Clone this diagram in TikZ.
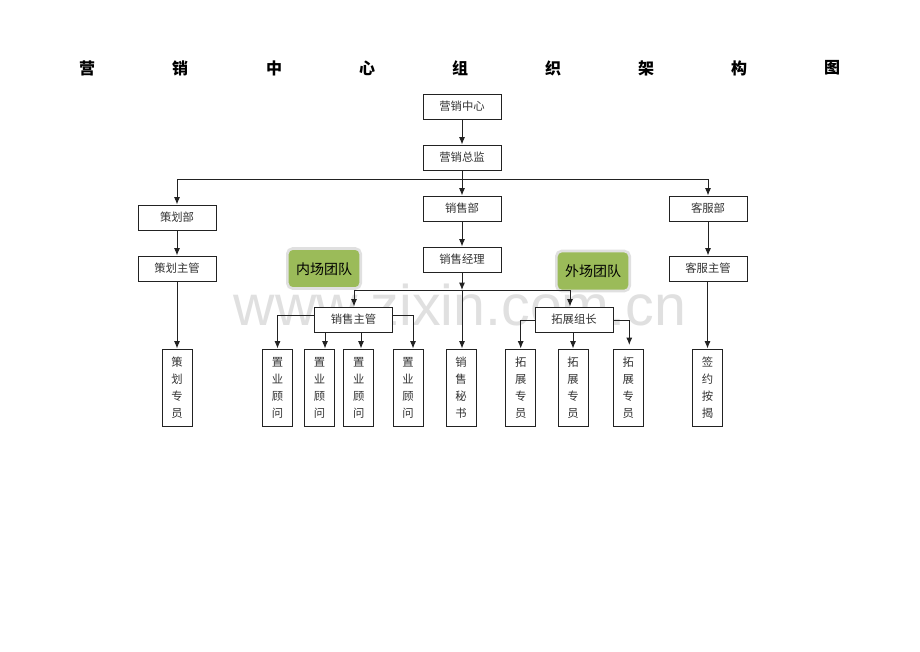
\documentclass[tikz,border=0pt]{standalone}
\usepackage{fontspec}
\setmainfont{Noto Sans CJK SC}
\newfontfamily\wmfont{Liberation Sans}
\usetikzlibrary{arrows.meta,calc}
\definecolor{teamgreen}{HTML}{9BBB59}
\definecolor{linecol}{HTML}{222222}
\begin{document}
\begin{tikzpicture}[x=0.75pt,y=-0.75pt,
  box/.style={draw=linecol, line width=0.75pt, fill=white, minimum width=58.5pt, minimum height=18.75pt, inner sep=0pt, font=\fontsize{8.5}{10}\selectfont, text=black!80},
  vbox/.style={draw=linecol, line width=0.75pt, fill=white, minimum width=22.5pt, minimum height=57.75pt, inner sep=0pt, align=center, font=\fontsize{8.5}{12.75}\selectfont, text=black!80},
  team/.style={fill=teamgreen, draw=black!12, line width=2pt, rounded corners=4pt, minimum width=55pt, minimum height=30pt, inner sep=0pt, font=\fontsize{10.5}{12}\selectfont},
  ttl/.style={font=\fontsize{12}{14}\selectfont\bfseries},
  arr/.style={draw=linecol, line width=0.75pt, -{Latex[length=5.5pt,width=4.5pt]}},
  ln/.style={draw=linecol, line width=0.75pt}]
\useasboundingbox (0,0) rectangle (920,651);
\fill[white] (0,0) rectangle (920,651);

% watermark
\node[text=black!12, font=\wmfont\fontsize{43}{48}\selectfont] (wm) at (460,305) {www.zixin.com.cn};

% title
\node[ttl] (t1) at (87,68) {营};
\node[ttl] (t2) at (180,68) {销};
\node[ttl] (t3) at (274,68) {中};
\node[ttl] (t4) at (367,68) {心};
\node[ttl] (t5) at (460,68) {组};
\node[ttl] (t6) at (553,68) {织};
\node[ttl] (t7) at (646,68) {架};
\node[ttl] (t8) at (739,68) {构};
\node[ttl] (t9) at (832,68) {图};

% boxes
\node[box] (yxzx) at (462,106.5) {营销中心};
\node[box] (yxzj) at (462,157.5) {营销总监};
\node[box] (chb) at (177,217.5) {策划部};
\node[box] (chzg) at (177,268.5) {策划主管};
\node[box] (xsb) at (462,208.5) {销售部};
\node[box] (xsjl) at (462,259.5) {销售经理};
\node[box] (kfb) at (708,208.5) {客服部};
\node[box] (kfzg) at (708,268.5) {客服主管};
\node[box] (xszg) at (353.5,319.5) {销售主管};
\node[box] (tzzz) at (574,319.5) {拓展组长};

\node[team, text depth=-3pt] (nc) at (324,268.5) {内场团队};
\node[team, text depth=-3pt] (wc) at (593,271) {外场团队};

% bottom vertical boxes
\node[vbox] (chzy) at (177,387.5) {策\\划\\专\\员};
\node[vbox] (zy1) at (277.5,387.5) {置\\业\\顾\\问};
\node[vbox] (zy2) at (319.5,387.5) {置\\业\\顾\\问};
\node[vbox] (zy3) at (358.7,387.5) {置\\业\\顾\\问};
\node[vbox] (zy4) at (408,387.5) {置\\业\\顾\\问};
\node[vbox] (xsms) at (461,387.5) {销\\售\\秘\\书};
\node[vbox] (tz1) at (520.7,387.5) {拓\\展\\专\\员};
\node[vbox] (tz2) at (573,387.5) {拓\\展\\专\\员};
\node[vbox] (tz3) at (628.3,387.5) {拓\\展\\专\\员};
\node[vbox] (qy) at (707.5,387.5) {签\\约\\按\\揭};

% connectors
\coordinate (bus) at (462,179);
\coordinate (jm) at (462,290);
\coordinate (jl) at (354,290);
\coordinate (jr) at (570,290);

\draw[arr] (yxzx) -- (yxzj);
\draw[arr] (yxzj) -- (xsb);
\draw[arr] (bus) -| (chb.north);
\draw[arr] (bus) -| (kfb.north);
\draw[arr] (chb) -- (chzg);
\draw[arr] (xsb) -- (xsjl);
\draw[arr] (kfb) -- (kfzg);
\draw[arr] (chzg) -- (chzy);
\draw[arr] (kfzg.south -| qy.north) -- (qy.north);
\draw[arr] (xsjl) -- (jm);
\draw[arr] (jm) -- (jm |- xsms.north);
\draw[ln] (jl) -- (jr);
\draw[arr] (jl) -- (jl |- xszg.north);
\draw[arr] (jr) -- (jr |- tzzz.north);

% sales supervisor
\draw[arr] (xszg.west |- 0,315) -| (zy1.north);
\draw[arr] (xszg.east |- 0,315) -| (413,0 |- zy4.north);
\draw[arr] (xszg.south -| 325,0) -- (325,0 |- zy2.north);
\draw[arr] (xszg.south -| 361,0) -- (361,0 |- zy3.north);

% expansion leader
\draw[arr] (tzzz.west |- 0,320.7) -| (tz1.north);
\draw[arr] (tzzz.south -| tz2.north) -- (tz2.north);
\coordinate (tz3end) at (629.3,345);
\draw[arr] (tzzz.east |- 0,320.7) -| (tz3end);
\end{tikzpicture}
\end{document}
